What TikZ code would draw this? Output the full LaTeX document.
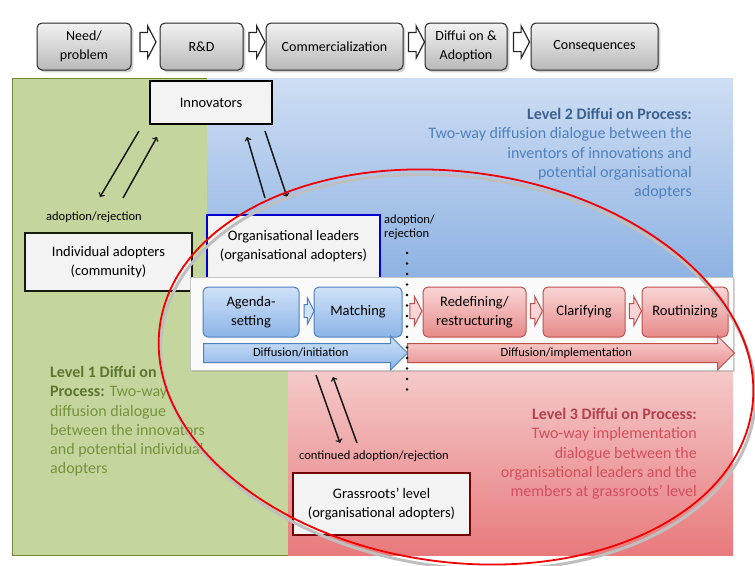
\documentclass[tikz,border=0pt]{standalone}
\usepackage{fontspec}
\setmainfont{Carlito}
\usepackage{tikz}
\usetikzlibrary{shapes.arrows,shadows}
\usepackage{xcolor}

\definecolor{greenbg}{RGB}{196,214,158}
\definecolor{greenline}{RGB}{110,135,60}
\definecolor{bluetop}{RGB}{206,222,244}
\definecolor{bluebot}{RGB}{142,178,226}
\definecolor{redtop}{RGB}{245,202,202}
\definecolor{redbot}{RGB}{232,122,124}
\definecolor{pbluetop}{RGB}{208,226,248}
\definecolor{pbluebot}{RGB}{140,180,232}
\definecolor{pblueline}{RGB}{79,129,189}
\definecolor{predtop}{RGB}{249,214,214}
\definecolor{predbot}{RGB}{232,138,138}
\definecolor{predline}{RGB}{192,80,77}
\definecolor{lvlgreen}{RGB}{118,146,60}
\definecolor{lvlblue}{RGB}{79,129,189}
\definecolor{lvlred}{RGB}{210,78,92}
\definecolor{boxgray}{RGB}{243,243,243}

\begin{document}
\begin{tikzpicture}[x=1pt, y=-1pt,
    topbox/.style={draw=black!85, line width=1pt, rounded corners=5pt, top color=gray!10, bottom color=gray!55,
        drop shadow={opacity=0.35}, minimum height=47pt, align=center, font=\fontsize{14}{19}\selectfont},
    blockarr/.style={single arrow, draw=black!85, line width=1.2pt, fill=white, minimum height=16pt,
        inner xsep=0pt, inner ysep=9pt, single arrow head extend=6.5pt, single arrow tip angle=125},
    whitebox/.style={fill=boxgray, line width=2.5pt, align=center, font=\fontsize{14.5}{19}\selectfont},
    procblue/.style={draw=pblueline, line width=1pt, rounded corners=5pt, top color=pbluetop, bottom color=pbluebot,
        minimum height=50pt, align=center, font=\fontsize{14.5}{19}\selectfont},
    procred/.style={draw=predline, line width=1pt, rounded corners=5pt, top color=predtop, bottom color=predbot,
        minimum height=50pt, align=center, font=\fontsize{14.5}{19}\selectfont},
    smallarr/.style={single arrow, line width=1pt, minimum height=12pt, inner xsep=0pt, inner ysep=7pt,
        single arrow head extend=7pt, single arrow tip angle=125},
    longarr/.style={single arrow, line width=1pt, anchor=tail, inner ysep=3pt, text height=9pt, text depth=3pt,
        single arrow head extend=7.5pt, font=\fontsize{12.5}{14}\selectfont},
    lbl/.style={inner sep=0pt, font=\fontsize{12.5}{13.5}\selectfont},
    lvltext/.style={inner sep=0pt, font=\fontsize{16}{19.3}\selectfont},
    arr/.style={->, line width=1.5pt, black!90}
]
\useasboundingbox (0,0) rectangle (755,565);

% coloured levels
\fill[white] (0,0) rectangle (755,565);
\filldraw[fill=greenbg, draw=greenline, line width=0.8pt] (12,78) rectangle (288,555);
\shade[top color=bluetop, bottom color=bluebot] (207,78) rectangle (733,278);
\shade[top color=redtop, bottom color=redbot] (288,370) rectangle (733,555);

% innovation chain
\node[topbox, minimum width=94pt] (need) at (84,46.5) {Need/\\problem};
\node[topbox, minimum width=83pt] (rd) at (201.5,46.5) {R\&D};
\node[topbox, minimum width=137pt] (comm) at (334.5,46.5) {Commercialization};
\node[topbox, minimum width=82pt] (diff) at (466,46.5) {Diffui on \&\\Adoption};
\node[topbox, minimum width=127pt] (cons) at (594.5,46.5) {Consequences};
\node[blockarr] (c1) at (145.5,42) {};
\node[blockarr] (c2) at (254.5,42) {};
\node[blockarr] (c3) at (414,42) {};
\node[blockarr] (c4) at (519,42) {};

% actors
\node[whitebox, draw=black, minimum width=122pt, minimum height=43pt] (innov) at (211,102.5) {Innovators};
\node[whitebox, draw=black!80!greenline, minimum width=167pt, minimum height=58pt] (indiv) at (108.5,262) {Individual adopters\\(community)};
\node[whitebox, draw=blue!80!black, line width=2pt, minimum width=173pt, minimum height=63pt] (orgl) at (293.5,246.5) {Organisational leaders\\(organisational adopters)};
\node[whitebox, draw=red!45!black, minimum width=177pt, minimum height=62pt] (grass) at (381.5,504) {Grassroots' level\\(organisational adopters)};

\coordinate (i1) at (139,131); \coordinate (a1) at (100,197);
\coordinate (a2) at (123,198); \coordinate (i2) at (157,137);
\coordinate (o1) at (265,198); \coordinate (i3) at (247,137);
\coordinate (i4) at (265,131); \coordinate (o2) at (287,197);
\draw[arr] (i1) -- (a1);
\draw[arr] (a2) -- (i2);
\draw[arr] (o1) -- (i3);
\draw[arr] (i4) -- (o2);

\node[lbl] (lbl1) at (94,217) {adoption/rejection};
\node[lbl, align=left, anchor=north west] (lbl2) at (384,215) {adoption/\\rejection};

% process panel
\node[fill=white!97!gray, draw=gray!45, line width=0.6pt, drop shadow={opacity=0.3}, minimum width=543pt, minimum height=93pt] (panel) at (461.5,323.5) {};
\node[procblue, minimum width=96pt] (agenda) at (251,312) {Agenda-\\setting};
\node[procblue, minimum width=88pt] (match) at (358,312) {Matching};
\node[procred, minimum width=103pt] (redef) at (474.5,312) {Redefining/\\restructuring};
\node[procred, minimum width=82pt] (clar) at (584,312) {Clarifying};
\node[procred, minimum width=86pt] (rout) at (685,312) {Routinizing};
\node[smallarr, draw=pblueline, fill=pbluetop, minimum height=10pt, inner ysep=6pt, single arrow head extend=6.5pt] (s1) at (307.5,311) {};
\node[smallarr, draw=predline, fill=predtop] (s2) at (414,311) {};
\node[smallarr, draw=predline, fill=predtop] (s3) at (534.5,311) {};
\node[smallarr, draw=predline, fill=predtop] (s4) at (633.5,311) {};
\node[longarr, draw=pblueline, top color=pbluetop, bottom color=pbluebot, minimum height=204pt] (init) at (203,353) {Diffusion/initiation};
\node[longarr, draw=predline, top color=predtop, bottom color=predbot, minimum height=327pt] (impl) at (407,353) {Diffusion/implementation};

\coordinate (dtop) at (407,253); \coordinate (dbot) at (407,391);
\draw[line width=2.6pt, line cap=round, dash pattern=on 0pt off 10.5pt] (dtop) -- (dbot);

\coordinate (g1) at (316,375); \coordinate (r1) at (340,443);
\coordinate (r2) at (357,443); \coordinate (g2) at (333,377);
\draw[arr] (g1) -- (r1);
\draw[arr] (r2) -- (g2);
\node[lbl] (lbl3) at (374,456) {continued adoption/rejection};

% level descriptions
\node[lvltext, text=lvlgreen, align=left, anchor=north west] (lvl1) at (50,366) {\textcolor{lvlgreen!80!black}{\textbf{Level 1 Diffui on}}\\\textcolor{lvlgreen!80!black}{\textbf{Process:}} Two-way\\diffusion dialogue\\between the innovators\\and potential individual\\adopters};
\node[lvltext, text=lvlblue, align=right, anchor=north east] (lvl2) at (692,108) {\textcolor{lvlblue!75!black}{\textbf{Level 2 Diffui on Process:}}\\Two-way diffusion dialogue between the\\inventors of innovations and\\potential organisational\\adopters};
\node[lvltext, text=lvlred, align=right, anchor=north east] (lvl3) at (697,408) {\textcolor{lvlred!85!black}{\textbf{Level 3 Diffui on Process:}}\\Two-way implementation\\dialogue between the\\organisational leaders and the\\members at grassroots' level};

% highlight
\draw[black!25, line width=3pt, rotate around={-8:(458,372)}] (458,372) ellipse [x radius=299pt, y radius=195pt];
\draw[red!95!black, line width=1.8pt, rotate around={-8:(456,367)}] (456,367) ellipse [x radius=299pt, y radius=195pt];
\end{tikzpicture}
\end{document}
